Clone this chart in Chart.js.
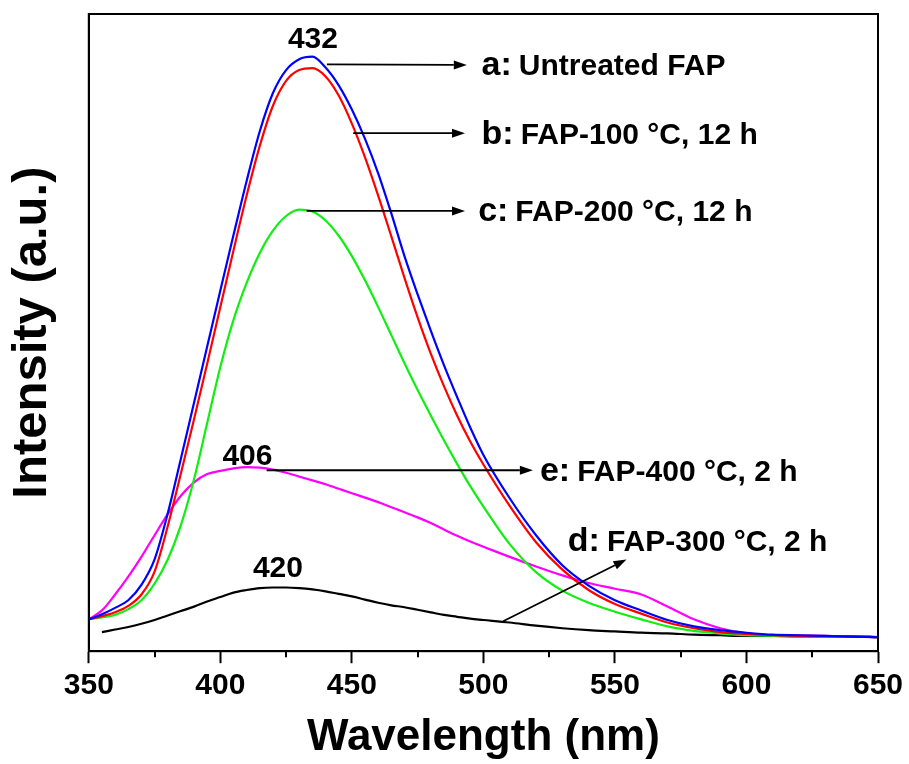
<!DOCTYPE html>
<html lang="en">
<head>
<meta charset="UTF-8">
<script src="https://cdn.jsdelivr.net/npm/chart.js"></script>
<title>FAP emission spectra</title>
<style>
  body { margin: 0; background: #fff; }
</style>
</head>
<body>
<canvas id="myChart" width="909" height="764"></canvas>
<script>
// wavelength (nm), shared by every curve
const wavelengths = [350,355,360,365,370,375,380,385,390,395,
                     400,405,410,415,420,425,430,435,440,445,
                     450,455,460,465,470,475,480,485,490,495,
                     500,510,520,530,540,550,560,570,580,590,
                     600,610,620,630,640,650];

// intensities (arbitrary units)
const untreated = [5.0,5.8,6.8,8.0,10.4,14.4,21.6,30.2,39.0,47.8,
                   56.6,65.3,73.8,81.6,87.6,91.2,92.9,93.3,91.6,88.8,
                   85.0,80.4,75.0,68.7,62.0,56.0,50.3,44.9,39.9,35.1,
                   30.8,24.0,18.2,13.5,10.3,8.0,6.4,4.9,3.9,3.3,
                   2.9,2.6,2.5,2.4,2.3,2.2];
const fap100 = [5.0,5.5,6.1,7.1,8.9,12.5,19.6,27.9,36.4,45.1,
                54.0,62.9,71.5,79.3,85.6,89.5,91.2,91.5,90.2,87.2,
                82.8,77.5,71.5,65.1,58.6,52.4,46.7,41.6,37.0,32.9,
                29.3,22.8,17.1,12.8,9.6,7.4,5.9,4.5,3.6,3.0,
                2.7,2.5,2.4,2.35,2.3,2.2];
const fap200 = [5.0,5.3,5.7,6.6,8.0,10.6,14.4,19.8,27.0,35.8,
                44.6,52.0,57.8,62.5,66.0,68.3,69.3,69.0,67.6,65.2,
                62.0,58.2,54.0,49.6,45.2,41.0,37.0,33.1,29.4,25.9,
                22.7,16.8,12.4,9.5,7.6,6.2,5.0,3.9,3.2,2.8,
                2.5,2.4,2.3,2.3,2.3,2.2];
const fap300 = [null,3.0,3.4,3.8,4.3,4.9,5.6,6.3,7.0,7.8,
                8.5,9.2,9.6,9.9,10.0,10.0,9.9,9.7,9.4,9.0,
                8.6,8.1,7.6,7.2,6.9,6.5,6.1,5.7,5.4,5.1,
                4.9,4.5,4.0,3.6,3.3,3.1,2.9,2.8,2.6,2.5,
                2.4,2.4,2.3,2.3,2.3,2.2];
const fap400 = [5.0,6.4,8.9,11.7,14.8,18.2,21.5,24.4,26.5,27.8,
                28.3,28.7,28.9,28.8,28.5,28.0,27.4,26.8,26.2,25.5,
                24.8,24.1,23.4,22.6,21.8,21.0,20.1,19.1,18.1,17.2,
                16.4,14.8,13.3,11.9,10.7,9.8,8.9,7.0,5.0,3.6,
                2.8,2.5,2.45,2.4,2.3,2.2];

const seriesNames = ['a', 'b', 'c', 'd', 'e'];
const seriesColors = ['#0000ff', '#ff0000', '#11ee11', '#000000', '#ff00ff'];
const seriesValues = [untreated, fap100, fap200, fap300, fap400];

// sample labels with their arrows (data units)
const labelPrefix = ['a:', 'b:', 'c:', 'd:', 'e:'];
const labelText = ['Untreated FAP', 'FAP-100 °C, 12 h', 'FAP-200 °C, 12 h', 'FAP-300 °C, 2 h', 'FAP-400 °C, 2 h'];
const labelX = [499.3, 499.3, 498.0, 532.1, 521.5];
const labelY = [90.4, 79.6, 67.5, 15.7, 26.7];
const arrowFromX = [440.5, 450.5, 432.8, 507.5, 417.6];
const arrowFromY = [92.1, 81.3, 69.1, 4.7, 28.4];
const arrowToX = [493.7, 493.0, 493.0, 554.4, 518.8];
const arrowToY = [92.0, 81.3, 69.1, 14.4, 28.4];

// peak positions written over the curves
const peakText = ['432', '406', '420'];
const peakX = [435.2, 410.3, 421.9];
const peakY = [94.7, 29.3, 11.7];

const minorTicks = [375, 425, 475, 525, 575, 625];

const FONT = '"Liberation Sans", Arial, Helvetica, sans-serif';

function arrow(ctx, x1, y1, x2, y2) {
  const a = Math.atan2(y2 - y1, x2 - x1);
  const len = 13, half = 4.5;
  const bx = x2 - len * Math.cos(a), by = y2 - len * Math.sin(a);
  ctx.beginPath();
  ctx.moveTo(x1, y1);
  ctx.lineTo(bx, by);
  ctx.stroke();
  ctx.beginPath();
  ctx.moveTo(x2, y2);
  ctx.lineTo(bx + half * Math.sin(a), by - half * Math.cos(a));
  ctx.lineTo(bx - half * Math.sin(a), by + half * Math.cos(a));
  ctx.closePath();
  ctx.fill();
}

const decorations = {
  id: 'decorations',
  afterDraw(chart) {
    const ctx = chart.ctx;
    const area = chart.chartArea;
    const xs = chart.scales.x, ys = chart.scales.y;
    ctx.save();
    ctx.strokeStyle = '#000';
    ctx.fillStyle = '#000';
    // box around the plot
    ctx.lineWidth = 2;
    ctx.strokeRect(area.left, area.top, area.right - area.left, area.bottom - area.top);
    // minor ticks
    minorTicks.forEach(v => {
      const px = Math.round(xs.getPixelForValue(v));
      ctx.beginPath();
      ctx.moveTo(px, area.bottom);
      ctx.lineTo(px, area.bottom + 6);
      ctx.stroke();
    });
    // arrows
    ctx.lineWidth = 1.8;
    for (let i = 0; i < labelPrefix.length; i++) {
      arrow(ctx, xs.getPixelForValue(arrowFromX[i]), ys.getPixelForValue(arrowFromY[i]),
                 xs.getPixelForValue(arrowToX[i]), ys.getPixelForValue(arrowToY[i]));
    }
    // sample labels
    ctx.textBaseline = 'alphabetic';
    ctx.textAlign = 'left';
    for (let i = 0; i < labelPrefix.length; i++) {
      let px = xs.getPixelForValue(labelX[i]);
      const py = ys.getPixelForValue(labelY[i]);
      ctx.font = 'bold 34px ' + FONT;
      ctx.fillText(labelPrefix[i], px, py);
      px += ctx.measureText(labelPrefix[i]).width + 7;
      ctx.font = 'bold 30px ' + FONT;
      ctx.fillText(labelText[i], px, py);
    }
    // peak wavelengths
    ctx.textAlign = 'center';
    ctx.font = 'bold 30px ' + FONT;
    for (let i = 0; i < peakText.length; i++) {
      ctx.fillText(peakText[i], xs.getPixelForValue(peakX[i]), ys.getPixelForValue(peakY[i]));
    }
    ctx.restore();
  }
};

const ctx = document.getElementById('myChart');
new Chart(ctx, {
  type: 'line',
  data: {
    datasets: seriesValues.map((vals, i) => ({
      label: seriesNames[i],
      data: wavelengths.map((w, j) => ({ x: w, y: vals[j] })),
      borderColor: seriesColors[i],
      borderWidth: 2.2,
      pointRadius: 0,
      fill: false,
      cubicInterpolationMode: 'monotone'
    }))
  },
  options: {
    responsive: false,
    animation: false,
    layout: { padding: { top: 14, right: 31, left: 3, bottom: 0 } },
    plugins: { legend: { display: false }, tooltip: { enabled: false } },
    scales: {
      x: {
        type: 'linear',
        min: 350,
        max: 650,
        ticks: {
          stepSize: 50,
          color: '#000',
          padding: 5,
          maxRotation: 0,
          font: { family: FONT, size: 30, weight: 'bold' }
        },
        grid: { drawOnChartArea: false, tickLength: 12, tickColor: '#000', tickWidth: 2 },
        border: { color: '#000', width: 2 },
        title: {
          display: true,
          text: 'Wavelength (nm)',
          color: '#000',
          font: { family: FONT, size: 44, weight: 'bold' },
          padding: { top: 2, bottom: 0 }
        }
      },
      y: {
        min: 0,
        max: 100,
        ticks: { display: false },
        grid: { display: false, drawTicks: false },
        border: { display: true, color: '#000', width: 2 },
        title: {
          display: true,
          text: 'Intensity (a.u.)',
          color: '#000',
          font: { family: FONT, size: 49, weight: 'bold' },
          padding: { top: 0, bottom: 27 }
        }
      }
    }
  },
  plugins: [decorations]
});
</script>
</body>
</html>
